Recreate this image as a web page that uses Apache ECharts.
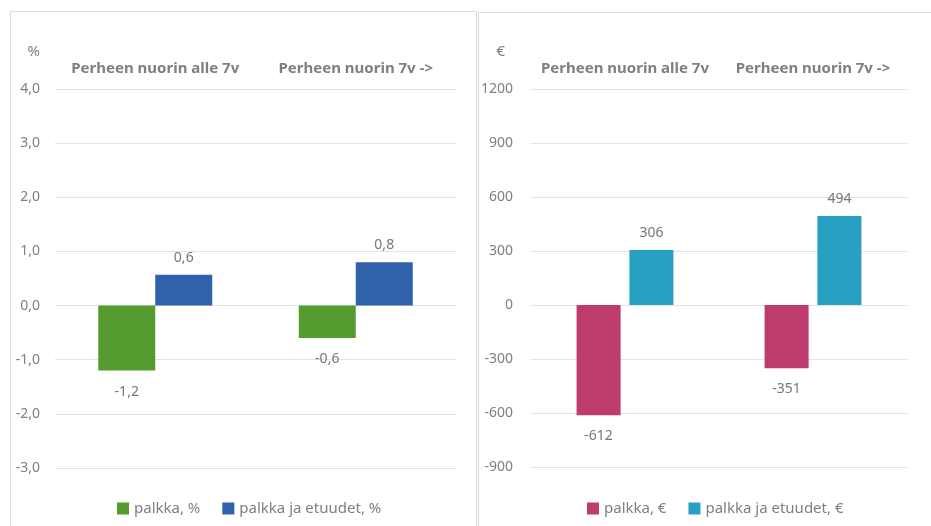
<!DOCTYPE html>
<html>
<head>
<meta charset="utf-8">
<script src="https://cdn.jsdelivr.net/npm/echarts@6/dist/echarts.min.js"></script>
<style>
  html, body { margin: 0; padding: 0; background: #fff; }
  #chart { width: 931px; height: 526px; }
</style>
</head>
<body>
<div id="chart"></div>
<script>
// data
const categories = ['Perheen nuorin alle 7v', 'Perheen nuorin 7v ->']
const palkkaPct = [-1.2, -0.6]
const etuudetPct = [0.57, 0.8]
const palkkaEur = [-612, -351]
const etuudetEur = [306, 494]

const font = 'Noto Sans'
const grey = '#7f7f7f'
const labelGrey = '#767676'

const chart = echarts.init(document.getElementById('chart'))

const fmtPct = v => v.toFixed(1).replace('.', ',')

function xAxisFor(gridIndex) {
  return {
    type: 'category',
    gridIndex: gridIndex,
    data: categories,
    position: 'top',
    axisLine: { show: false },
    axisTick: { show: false },
    axisLabel: {
      interval: 0,
      margin: 13,
      color: grey,
      fontFamily: font,
      fontWeight: 'bold',
      fontSize: 15
    }
  }
}

function yAxisFor(gridIndex, name, min, max, interval, formatter, margin, namePad) {
  return {
    type: 'value',
    gridIndex: gridIndex,
    min: min,
    max: max,
    interval: interval,
    name: name,
    nameLocation: 'end',
    nameGap: 30,
    nameTextStyle: { color: grey, fontFamily: font, fontSize: 15, align: 'right', padding: [0, namePad, 0, 0] },
    axisLine: { show: false },
    axisTick: { show: false },
    axisLabel: { color: grey, fontFamily: font, fontSize: 14, margin: margin, formatter: formatter },
    splitLine: { lineStyle: { color: '#e3e3e3', width: 1 } }
  }
}

function barSeries(name, data, axis, color, width, gap, pos, fmt) {
  return {
    name: name,
    type: 'bar',
    xAxisIndex: axis,
    yAxisIndex: axis,
    data: data,
    barWidth: width,
    barGap: gap,
    itemStyle: { color: color },
    label: {
      show: true,
      position: pos,
      distance: pos === 'top' ? 10 : 14,
      color: labelGrey,
      fontFamily: font,
      fontSize: 14,
      formatter: p => fmt(p.value)
    }
  }
}

const option = {
  animation: false,
  backgroundColor: '#fff',
  graphic: [
    { type: 'rect', shape: { x: 10.5, y: 11.5, width: 466, height: 540 }, style: { fill: 'none', stroke: '#d9d9d9', lineWidth: 1 } },
    { type: 'rect', shape: { x: 478.5, y: 12.5, width: 470, height: 540 }, style: { fill: 'none', stroke: '#d9d9d9', lineWidth: 1 } }
  ],
  legend: [
    {
      data: ['palkka, %', 'palkka ja etuudet, %'],
      left: 112, top: 496,
      itemWidth: 12, itemHeight: 12, itemGap: 22,
      icon: 'rect',
      textStyle: { color: grey, fontFamily: font, fontSize: 15 }
    },
    {
      data: ['palkka, €', 'palkka ja etuudet, €'],
      left: 582, top: 496,
      itemWidth: 12, itemHeight: 12, itemGap: 22,
      icon: 'rect',
      textStyle: { color: grey, fontFamily: font, fontSize: 15 }
    }
  ],
  grid: [
    { left: 55, right: 931 - 456, top: 89, bottom: 526 - 468 },
    { left: 531, right: 931 - 907, top: 89, bottom: 526 - 467 }
  ],
  xAxis: [xAxisFor(0), xAxisFor(1)],
  yAxis: [
    yAxisFor(0, '%', -3, 4, 1, fmtPct, 15, 15),
    yAxisFor(1, '€', -900, 1200, 300, v => String(v), 18, 26)
  ],
  series: [
    barSeries('palkka, %', palkkaPct, 0, '#549b30', 57, '0%', 'bottom', fmtPct),
    barSeries('palkka ja etuudet, %', etuudetPct, 0, '#3061ab', 57, '0%', 'top', fmtPct),
    barSeries('palkka, €', palkkaEur, 1, '#bd3b6d', 44, '20%', 'bottom', v => String(v)),
    barSeries('palkka ja etuudet, €', etuudetEur, 1, '#28a0c3', 44, '20%', 'top', v => String(v))
  ]
}

chart.setOption(option)
</script>
</body>
</html>
